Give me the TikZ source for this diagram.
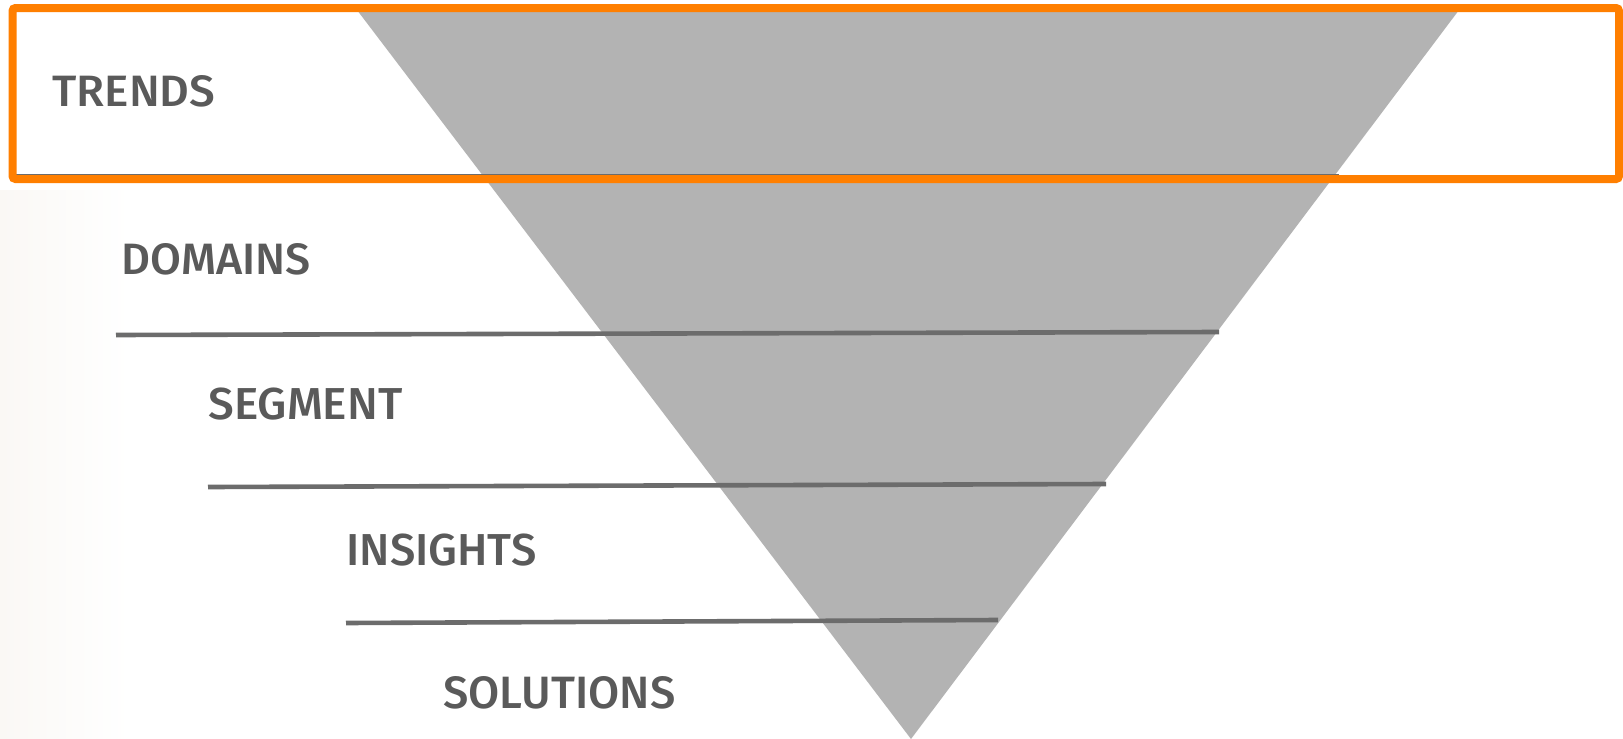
\documentclass[tikz,border=0pt]{standalone}
\usepackage{graphicx}
\usepackage{fontspec}
\setmainfont{Fira Sans}
\newfontfamily\labfont{Fira Sans}[UprightFont={* Medium}]
\definecolor{tri}{RGB}{179,179,179}
\definecolor{divline}{RGB}{108,108,108}
\definecolor{txt}{RGB}{90,90,90}
\definecolor{orng}{RGB}{255,127,0}
\definecolor{beige}{RGB}{250,248,245}
\tikzset{
  lbl/.style={anchor=south west, inner sep=0pt, text=txt, font=\labfont},
  divider/.style={draw=divline, line width=2.3pt},
  frame/.style={draw=orng, line width=4pt, rounded corners=1.5pt},
}
\newcommand{\lab}[3]{\resizebox{#1pt}{#2pt}{#3}}
\begin{document}
\begin{tikzpicture}[x=0.5pt,y=-0.5pt]
\useasboundingbox (0,0) rectangle (1623,739);
\fill[white] (0,0) rectangle (1623,739);
\shade[left color=beige, right color=white] (0,190) rectangle (130,739);
% funnel
\fill[tri] (357,10) -- (1459,10) -- (911,739) -- cycle;
% dividers
\coordinate (t0) at (15,175);   \coordinate (t1) at (1339,175);
\coordinate (d0) at (116,335);  \coordinate (d1) at (1219,332);
\coordinate (s0) at (208,487);  \coordinate (s1) at (1106,484);
\coordinate (i0) at (346,623);  \coordinate (i1) at (998,620);
\draw[draw=divline, line width=1pt] (t0) -- (t1);
\draw[divider] (d0) -- (d1);
\draw[divider] (s0) -- (s1);
\draw[divider] (i0) -- (i1);
% frame
\draw[frame] (12.5,8) rectangle (1619,179);
% labels
\node[lbl] (trends) at (52,108) {\lab{81.5}{15.5}{TRENDS}};
\node[lbl] (domains) at (121,276) {\lab{94.5}{15.5}{DOMAINS}};
\node[lbl] (segment) at (208,421) {\lab{97}{15.8}{SEGMENT}};
\node[lbl] (insights) at (346,567) {\lab{95}{15.8}{INSIGHTS}};
\node[lbl] (solutions) at (443,710) {\lab{116}{16}{SOLUTIONS}};
\end{tikzpicture}
\end{document}
